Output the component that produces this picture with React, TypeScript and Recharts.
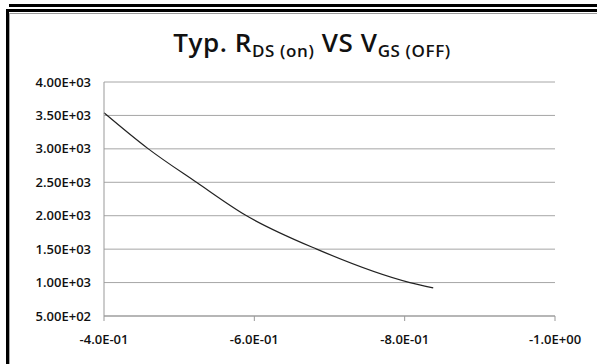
import { LineChart, Line, XAxis, YAxis, CartesianGrid } from 'recharts';

// gate voltage (V) and typical on-resistance (ohm)
const vgs = [-0.4, -0.459, -0.523, -0.588, -0.683, -0.807, -0.838];
const rdsOn = [3540, 3000, 2500, 2010, 1500, 1000, 920];

const xTicks = [-0.4, -0.6, -0.8, -1.0];
const yTicks = [500, 1000, 1500, 2000, 2500, 3000, 3500, 4000];

const data = vgs.map((v, i) => ({ v, r: rdsOn[i] }));

const sci = (n: number, digits: number) => {
  const [m, e] = n.toExponential(digits).split('e');
  const exp = Number(e);
  return `${m}E${exp < 0 ? '-' : '+'}${String(Math.abs(exp)).padStart(2, '0')}`;
};

const font = '"Open Sans", sans-serif';
const tickStyle = { fontSize: 13, fontWeight: 600, fill: '#111', fontFamily: font };

export default function App() {
  return (
    <div style={{ position: 'absolute', left: 0, top: 0, width: 597, height: 364, background: '#fff', overflow: 'hidden' }}>
      {/* frame bands */}
      <div style={{ position: 'absolute', left: 9, top: 4, width: 588, height: 3, background: '#000' }} />
      <div style={{ position: 'absolute', left: 6, top: 9, width: 591, height: 3, background: '#000' }} />
      <div style={{ position: 'absolute', left: 6, top: 13, width: 591, height: 1, background: '#999' }} />
      <div style={{ position: 'absolute', left: 6, top: 9, width: 3, height: 355, background: '#000' }} />
      <div style={{ position: 'absolute', left: 9, top: 13, width: 1, height: 351, background: '#aaa' }} />

      <div
        style={{
          position: 'absolute',
          left: 0,
          width: 624,
          top: 27,
          textAlign: 'center',
          fontFamily: font,
          fontWeight: 600,
          fontSize: 26,
          letterSpacing: 0.6,
          color: '#111',
          lineHeight: '30px',
          whiteSpace: 'nowrap',
        }}
      >
        Typ. R<sub style={{ fontSize: 17, verticalAlign: '-5px' }}>DS (on)</sub> VS V<sub style={{ fontSize: 17, verticalAlign: '-5px' }}>GS (OFF)</sub>
      </div>

      <LineChart width={597} height={364} data={data} margin={{ top: 82, right: 42, bottom: 0, left: 0 }}>
        <CartesianGrid vertical={false} stroke="#a6a6a6" strokeWidth={1} />
        <XAxis
          dataKey="v"
          type="number"
          domain={[-1, -0.4]}
          reversed
          ticks={xTicks}
          tickFormatter={(n: number) => sci(n, 1)}
          tick={tickStyle}
          stroke="#999"
          tickSize={5}
          tickMargin={14}
          height={48}
        />
        <YAxis
          type="number"
          domain={[500, 4000]}
          ticks={yTicks}
          tickFormatter={(n: number) => sci(n, 2)}
          tick={tickStyle}
          stroke="#999"
          tickLine={false}
          tickSize={6}
          tickMargin={7}
          width={104}
        />
        <Line dataKey="r" type="monotone" stroke="#222" strokeWidth={1.2} dot={false} isAnimationActive={false} />
      </LineChart>
    </div>
  );
}
